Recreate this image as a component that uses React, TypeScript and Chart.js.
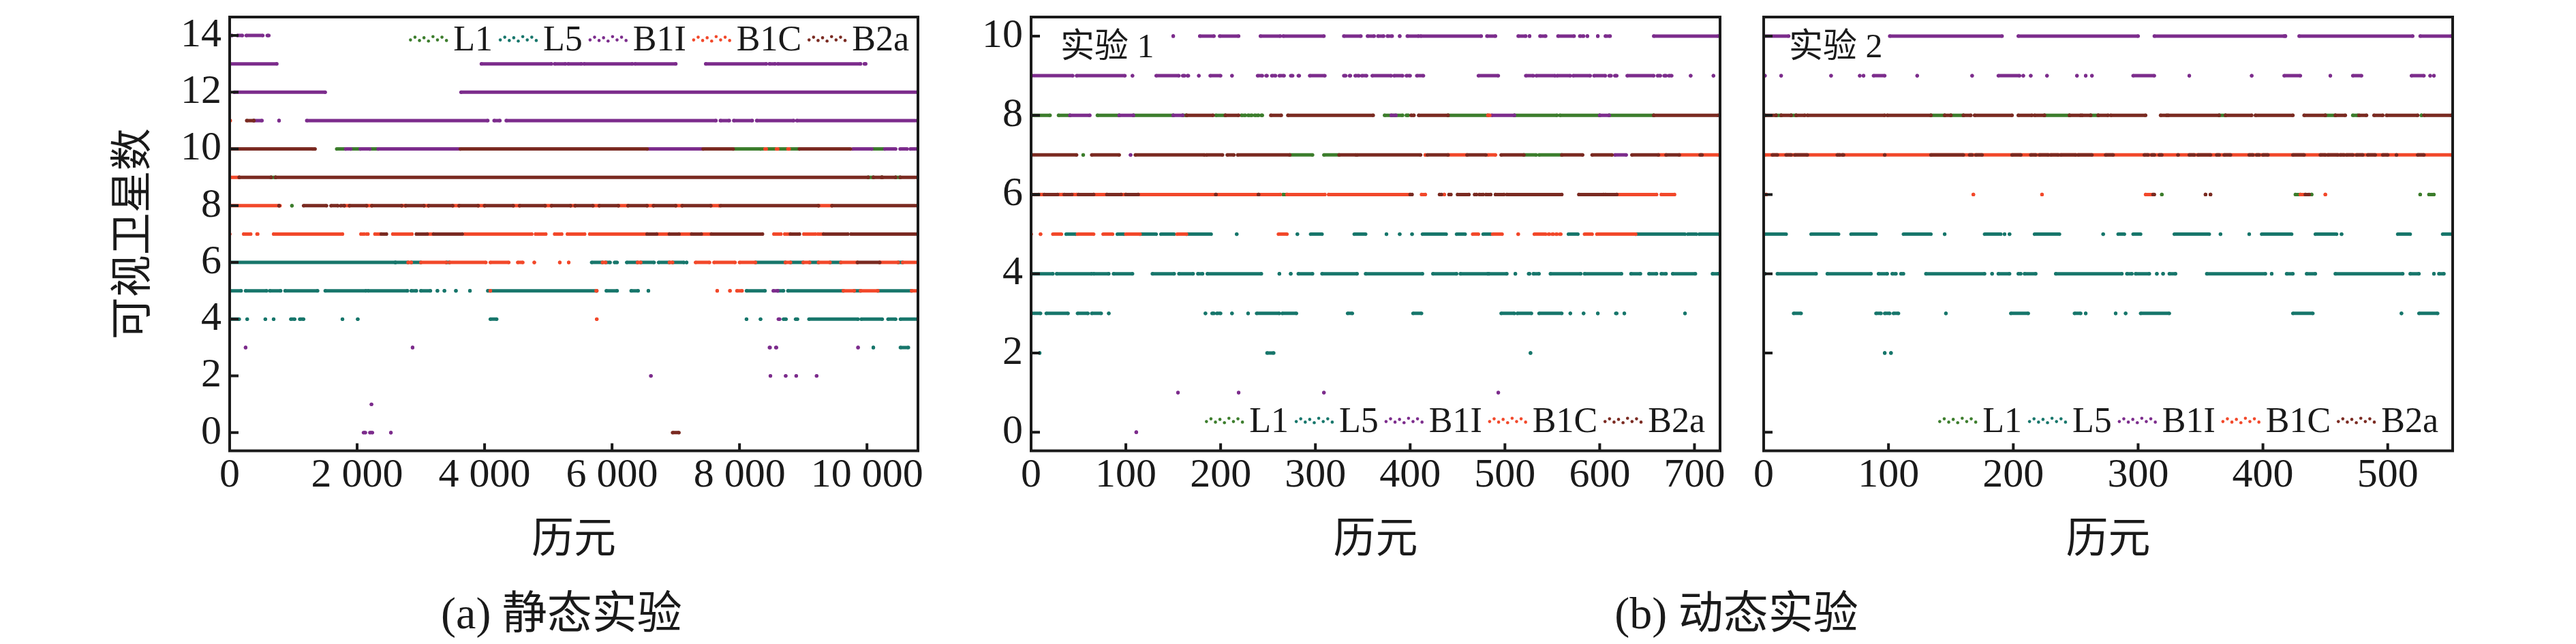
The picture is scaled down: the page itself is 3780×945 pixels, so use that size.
import React, { useEffect, useRef } from 'react';
import { Chart, registerables } from 'chart.js';

Chart.register(...registerables);

type Run = [number, number, number]; // [epoch start, epoch end, visible satellites]

const SERIES = ['L1', 'L5', 'B1I', 'B1C', 'B2a'];
const COLORS = ['#3c7d2c', '#17766b', '#7c2c8c', '#f2482a', '#7a2a21'];
const INK = '#1a1a1a';
const FONT = '"Liberation Serif", "Noto Sans CJK SC", serif';

const Y_TITLE = '可视卫星数';
const X_TITLE = '历元';
const CAPTION_A = '(a) 静态实验';
const CAPTION_B = '(b) 动态实验';
const LABEL_B1 = '实验 1';
const LABEL_B2 = '实验 2';

// tick values
const A_XTICKS = [0, 2000, 4000, 6000, 8000, 10000];
const A_YTICKS = [0, 2, 4, 6, 8, 10, 12, 14];
const B1_XTICKS = [0, 100, 200, 300, 400, 500, 600, 700];
const B2_XTICKS = [0, 100, 200, 300, 400, 500];
const B_YTICKS = [0, 2, 4, 6, 8, 10];

// ---------------- (a) static experiment ----------------
const aL1: Run[] = [
  [1680, 1820, 10], [1900, 2050, 10], [2200, 2330, 10], [7900, 8330, 10], [8330, 8940, 10], [10075, 10280, 10],
  [650, 720, 9], [10020, 10100, 9], [10230, 10240, 9], [10450, 10520, 9],
  [977, 977, 8],
];
const aL5: Run[] = [
  [0, 2600, 6], [2600, 2800, 6], [2850, 3000, 6], [3400, 3450, 6], [5680, 5850, 6], [5900, 5970, 6], [6040, 6080, 6],
  [6230, 6400, 6], [6450, 6660, 6], [6730, 6900, 6], [6950, 7130, 6], [7170, 7170, 6], [8250, 8720, 6], [8800, 9000, 6],
  [9100, 9240, 6], [9420, 9590, 6], [10490, 10560, 6],
  [0, 180, 5], [250, 580, 5], [630, 800, 5], [870, 1380, 5], [1500, 2140, 5], [2170, 2790, 5], [2850, 2930, 5],
  [3000, 3150, 5], [3260, 3260, 5], [3370, 3370, 5], [3550, 3550, 5], [3770, 3770, 5], [4050, 5760, 5], [5910, 6080, 5],
  [6300, 6410, 5], [6570, 6570, 5], [8110, 8400, 5], [8600, 8690, 5], [8760, 9630, 5], [9800, 9900, 5], [10170, 10700, 5],
  [0, 150, 4], [275, 275, 4], [560, 560, 4], [690, 690, 4], [960, 1020, 4], [1100, 1160, 4], [1770, 1770, 4],
  [2010, 2010, 4], [4090, 4190, 4], [8110, 8110, 4], [8330, 8330, 4], [8690, 8730, 4], [8880, 8910, 4], [9090, 9860, 4],
  [9910, 10240, 4], [10330, 10450, 4], [10525, 10810, 4],
  [10100, 10100, 3], [10525, 10650, 3],
];
const aB1I: Run[] = [
  [0, 40, 14], [120, 200, 14], [260, 520, 14], [590, 615, 14],
  [0, 740, 13], [3950, 5050, 13], [5100, 5270, 13], [5310, 5520, 13], [5560, 6320, 13], [6360, 7000, 13], [7470, 8420, 13],
  [8470, 8560, 13], [8600, 9900, 13], [9960, 9980, 13],
  [70, 1500, 12], [3630, 10810, 12],
  [380, 507, 11], [775, 775, 11], [1210, 4050, 11], [4150, 4240, 11], [4340, 7630, 11], [7700, 7840, 11], [7910, 8200, 11],
  [8270, 8850, 11], [8900, 10810, 11],
  [1820, 1900, 10], [2050, 2200, 10], [2330, 3620, 10], [6550, 7430, 10], [9775, 10075, 10], [10280, 10450, 10],
  [10520, 10630, 10], [10680, 10810, 10],
  [8530, 8600, 5], [8610, 8630, 4],
  [250, 250, 3], [2870, 2870, 3], [8470, 8480, 3], [8570, 8580, 3], [9860, 9860, 3],
  [6610, 6610, 2], [8485, 8485, 2], [8725, 8725, 2], [8890, 8890, 2], [9210, 9210, 2],
  [2225, 2225, 1],
  [2100, 2130, 0], [2200, 2240, 0], [2530, 2530, 0],
];
const aB1C: Run[] = [
  [0, 10, 11],
  [8400, 8420, 10], [8580, 8600, 10], [8760, 8780, 10],
  [0, 150, 9],
  [0, 790, 8], [1800, 1880, 8], [2150, 2230, 8], [2700, 2760, 8], [3050, 3120, 8], [3500, 3600, 8], [3900, 4000, 8],
  [4450, 4550, 8], [4950, 5050, 8], [5350, 5420, 8], [5700, 5800, 8], [6100, 6250, 8], [6550, 6650, 8], [7000, 7100, 8],
  [7550, 7680, 8], [9240, 9450, 8],
  [0, 0, 7], [220, 330, 7], [430, 440, 7], [690, 1770, 7], [2060, 2110, 7], [2150, 2170, 7], [2280, 2360, 7], [2560, 2860, 7],
  [3100, 3200, 7], [3690, 4740, 7], [4800, 4960, 7], [5100, 5210, 7], [5300, 5570, 7], [5650, 6550, 7], [6700, 6900, 7],
  [7050, 7250, 7], [7400, 7560, 7], [8540, 8650, 7], [8710, 8800, 7], [9010, 9190, 7], [9230, 9320, 7],
  [2800, 2850, 6], [3000, 3400, 6], [3450, 4020, 6], [4090, 4380, 6], [4520, 4600, 6], [4780, 4780, 6], [5180, 5180, 6],
  [5320, 5320, 6], [5850, 5900, 6], [6400, 6450, 6], [6900, 6950, 6], [7310, 7530, 6], [7600, 7930, 6], [8000, 8250, 6],
  [8720, 8800, 6], [9000, 9100, 6], [9240, 9420, 6], [9590, 9850, 6], [10200, 10490, 6], [10560, 10810, 6],
  [4090, 4090, 5], [5750, 5760, 5], [7650, 7650, 5], [7850, 7850, 5], [7960, 8040, 5], [9630, 9800, 5], [9900, 10170, 5],
  [10700, 10810, 5],
  [5760, 5760, 4],
];
const aB2a: Run[] = [
  [268, 380, 11],
  [0, 1300, 10], [1320, 1340, 10], [3620, 6550, 10], [7430, 7900, 10], [8940, 9740, 10],
  [150, 650, 9], [720, 10020, 9], [10100, 10230, 9], [10240, 10450, 9], [10520, 10810, 9],
  [775, 775, 8], [1160, 1520, 8], [1590, 1700, 8], [1740, 1800, 8], [1880, 2150, 8], [2230, 2700, 8], [2760, 3050, 8],
  [3120, 3500, 8], [3600, 3900, 8], [4000, 4450, 8], [4550, 4950, 8], [5050, 5350, 8], [5420, 5700, 8], [5800, 6100, 8],
  [6250, 6550, 8], [6650, 7000, 8], [7100, 7550, 8], [7700, 9240, 8], [9450, 10810, 8],
  [2380, 2460, 7], [2930, 3100, 7], [3200, 3650, 7], [6550, 6700, 7], [6900, 7050, 7], [7250, 7400, 7], [7560, 8360, 7],
  [8800, 8940, 7], [9320, 9700, 7], [9750, 10810, 7],
  [9850, 10200, 6],
  [6950, 7050, 0],
];

// ---------------- (b) dynamic experiment 1 ----------------
const b1L1: Run[] = [
  [0, 20, 8], [29, 41, 8], [70, 93, 8], [108, 150, 8], [160, 164, 8], [195, 205, 8], [222, 226, 8], [229, 233, 8],
  [236, 240, 8], [243, 244, 8], [373, 392, 8], [396, 398, 8], [440, 482, 8], [510, 555, 8], [558, 600, 8], [610, 657, 8],
  [55, 55, 7], [273, 297, 7], [309, 325, 7], [520, 533, 7], [536, 560, 7],
  [266, 270, 6],
];
const b1L5: Run[] = [
  [37, 47, 5], [91, 98, 5], [115, 132, 5], [137, 151, 5], [164, 190, 5], [217, 217, 5], [281, 281, 5], [295, 307, 5],
  [341, 353, 5], [375, 375, 5], [389, 389, 5], [402, 402, 5], [413, 438, 5], [449, 458, 5], [477, 485, 5], [567, 577, 5],
  [638, 690, 5], [693, 702, 5], [705, 725, 5],
  [0, 23, 4], [27, 64, 4], [66, 82, 4], [87, 107, 4], [128, 151, 4], [156, 171, 4], [176, 181, 4], [186, 243, 4],
  [262, 262, 4], [274, 274, 4], [282, 297, 4], [307, 344, 4], [353, 413, 4], [424, 449, 4], [453, 482, 4], [483, 502, 4],
  [511, 511, 4], [525, 526, 4], [530, 536, 4], [548, 580, 4], [584, 623, 4], [633, 643, 4], [652, 660, 4], [665, 670, 4],
  [677, 701, 4], [719, 725, 4],
  [0, 10, 3], [16, 39, 3], [49, 60, 3], [64, 74, 3], [82, 82, 3], [184, 184, 3], [191, 193, 3], [196, 200, 3], [212, 212, 3],
  [229, 229, 3], [238, 262, 3], [265, 280, 3], [334, 339, 3], [403, 412, 3], [496, 510, 3], [513, 528, 3], [536, 560, 3],
  [569, 569, 3], [583, 583, 3], [598, 598, 3], [617, 618, 3], [626, 626, 3], [690, 690, 3],
  [9, 9, 2], [249, 256, 2], [527, 527, 2],
];
const b1B1I: Run[] = [
  [150, 150, 10], [178, 193, 10], [199, 219, 10], [242, 263, 10], [266, 309, 10], [330, 348, 10], [355, 362, 10],
  [366, 372, 10], [376, 381, 10], [389, 389, 10], [397, 409, 10], [411, 475, 10], [481, 490, 10], [514, 522, 10],
  [526, 526, 10], [537, 543, 10], [556, 573, 10], [579, 583, 10], [587, 587, 10], [598, 598, 10], [606, 611, 10],
  [657, 725, 10],
  [0, 44, 9], [48, 99, 9], [107, 107, 9], [132, 156, 9], [160, 162, 9], [165, 166, 9], [177, 177, 9], [189, 200, 9],
  [212, 212, 9], [239, 244, 9], [248, 249, 9], [254, 258, 9], [262, 267, 9], [274, 276, 9], [282, 283, 9], [294, 310, 9],
  [330, 332, 9], [336, 337, 9], [342, 346, 9], [349, 354, 9], [360, 380, 9], [383, 392, 9], [396, 400, 9], [407, 414, 9],
  [472, 493, 9], [522, 530, 9], [533, 553, 9], [555, 569, 9], [572, 590, 9], [594, 606, 9], [610, 612, 9], [616, 618, 9],
  [629, 657, 9], [661, 664, 9], [668, 670, 9], [673, 676, 9], [696, 696, 9], [720, 720, 9],
  [41, 62, 8], [93, 108, 8], [150, 160, 8], [380, 385, 8], [486, 510, 8], [600, 610, 8],
  [105, 105, 7], [616, 628, 7],
  [155, 155, 1], [219, 219, 1], [309, 309, 1], [493, 493, 1],
  [111, 111, 0],
];
const b1B1C: Run[] = [
  [482, 484, 8],
  [416, 416, 7], [440, 460, 7], [482, 490, 7], [662, 670, 7], [684, 725, 7],
  [10, 12, 6], [30, 33, 6], [45, 48, 6], [66, 80, 6], [95, 100, 6], [113, 263, 6], [270, 310, 6], [314, 400, 6],
  [412, 416, 6], [436, 436, 6], [618, 660, 6], [665, 679, 6],
  [0, 0, 5], [10, 10, 5], [23, 32, 5], [49, 66, 5], [76, 86, 5], [100, 115, 5], [154, 164, 5], [261, 270, 5], [466, 472, 5],
  [487, 497, 5], [514, 514, 5], [531, 543, 5], [546, 547, 5], [550, 551, 5], [554, 555, 5], [558, 559, 5], [584, 592, 5],
  [597, 638, 5],
];
const b1B2a: Run[] = [
  [164, 192, 8], [205, 219, 8], [253, 264, 8], [271, 361, 8], [401, 404, 8], [409, 440, 8], [657, 725, 8],
  [0, 48, 7], [64, 93, 7], [110, 183, 7], [185, 202, 7], [207, 214, 7], [218, 273, 7], [325, 343, 7], [344, 411, 7],
  [418, 440, 7], [460, 480, 7], [496, 520, 7], [560, 582, 7], [592, 613, 7], [634, 662, 7], [670, 684, 7], [706, 708, 7],
  [0, 8, 6], [14, 28, 6], [35, 43, 6], [50, 66, 6], [80, 95, 6], [100, 113, 6], [195, 195, 6], [240, 240, 6], [400, 402, 6],
  [431, 433, 6], [441, 443, 6], [450, 462, 6], [468, 470, 6], [473, 477, 6], [480, 485, 6], [490, 499, 6], [502, 560, 6],
  [578, 604, 6], [606, 618, 6],
];

// ---------------- (b) dynamic experiment 2 ----------------
const b2L1: Run[] = [
  [10, 14, 8], [22, 26, 8], [134, 145, 8], [150, 160, 8], [225, 245, 8], [262, 268, 8], [365, 370, 8], [450, 458, 8],
  [472, 476, 8], [527, 527, 8],
  [319, 319, 6], [426, 430, 6], [439, 439, 6], [526, 526, 6], [533, 537, 6],
];
const b2L5: Run[] = [
  [1, 18, 5], [38, 60, 5], [70, 90, 5], [112, 134, 5], [145, 145, 5], [177, 190, 5], [193, 193, 5], [197, 197, 5],
  [217, 237, 5], [272, 272, 5], [284, 289, 5], [296, 302, 5], [329, 357, 5], [366, 366, 5], [389, 389, 5], [399, 423, 5],
  [442, 459, 5], [463, 463, 5], [508, 518, 5], [544, 551, 5],
  [1, 1, 4], [11, 42, 4], [51, 86, 4], [92, 99, 4], [103, 106, 4], [110, 112, 4], [130, 177, 4], [183, 183, 4],
  [188, 197, 4], [204, 206, 4], [209, 218, 4], [234, 287, 4], [291, 295, 4], [298, 309, 4], [315, 315, 4], [320, 320, 4],
  [325, 330, 4], [355, 402, 4], [407, 407, 4], [419, 424, 4], [435, 442, 4], [458, 512, 4], [518, 525, 4], [537, 537, 4],
  [541, 545, 4],
  [24, 30, 3], [90, 94, 3], [97, 101, 3], [104, 108, 3], [146, 146, 3], [198, 212, 3], [249, 254, 3], [258, 258, 3],
  [282, 282, 3], [290, 290, 3], [302, 325, 3], [424, 440, 3], [511, 511, 3], [525, 540, 3],
  [97, 97, 2], [102, 102, 2],
];
const b2B1I: Run[] = [
  [0, 20, 10], [101, 191, 10], [204, 300, 10], [313, 417, 10], [418, 418, 10], [429, 520, 10], [526, 551, 10],
  [1, 1, 9], [14, 14, 9], [54, 54, 9], [77, 77, 9], [80, 80, 9], [88, 97, 9], [123, 123, 9], [167, 167, 9], [188, 205, 9],
  [208, 208, 9], [214, 214, 9], [227, 227, 9], [251, 251, 9], [258, 258, 9], [263, 263, 9], [296, 313, 9], [341, 341, 9],
  [391, 391, 9], [417, 430, 9], [454, 454, 9], [472, 479, 9], [519, 529, 9], [534, 534, 9], [537, 537, 9],
];
const b2B1C: Run[] = [
  [1, 551, 7],
  [2, 2, 6], [168, 168, 6], [223, 223, 6], [306, 312, 6], [430, 434, 6], [450, 450, 6],
];
const b2B2a: Run[] = [
  [1, 10, 8], [14, 22, 8], [26, 33, 8], [35, 97, 8], [99, 134, 8], [145, 150, 8], [160, 166, 8], [169, 199, 8],
  [204, 215, 8], [217, 225, 8], [245, 254, 8], [255, 262, 8], [268, 276, 8], [278, 306, 8], [318, 323, 8], [324, 365, 8],
  [370, 391, 8], [394, 424, 8], [433, 450, 8], [458, 466, 8], [477, 483, 8], [489, 496, 8], [499, 524, 8], [529, 551, 8],
  [7, 11, 7], [18, 22, 7], [25, 35, 7], [59, 61, 7], [63, 64, 7], [97, 97, 7], [134, 160, 7], [165, 167, 7], [170, 175, 7],
  [199, 206, 7], [214, 218, 7], [221, 228, 7], [230, 236, 7], [238, 250, 7], [252, 263, 7], [274, 280, 7], [305, 308, 7],
  [311, 313, 7], [317, 319, 7], [332, 332, 7], [341, 345, 7], [348, 358, 7], [363, 365, 7], [369, 374, 7], [389, 392, 7],
  [395, 397, 7], [400, 404, 7], [424, 433, 7], [446, 450, 7], [452, 460, 7], [462, 465, 7], [467, 472, 7], [475, 480, 7],
  [484, 490, 7], [496, 500, 7], [507, 507, 7], [524, 529, 7],
  [312, 313, 6], [354, 354, 6], [358, 358, 6], [434, 437, 6],
];

// axis ranges
const A_X = { min: 0, max: 10800, ticks: A_XTICKS };
const A_Y = { min: -0.64, max: 14.65, ticks: A_YTICKS };
const B1_X = { min: 0, max: 727, ticks: B1_XTICKS };
const B2_X = { min: 0, max: 552, ticks: B2_XTICKS };
const B_Y = { min: -0.47, max: 10.48, ticks: B_YTICKS };

function toPoints(runs: Run[]) {
  const pts: { x: number; y: number | null }[] = [];
  for (const [x0, x1, y] of runs) {
    pts.push({ x: x0, y }, { x: x1, y }, { x: x1, y: null });
  }
  return pts;
}

function fmtThousands(v: number) {
  const s = String(Math.round(v));
  if (s.length <= 3) return s;
  return s.slice(0, s.length - 3) + ' ' + s.slice(s.length - 3);
}

function drawMarker(ctx: CanvasRenderingContext2D, x: number, cy: number, color: string) {
  ctx.fillStyle = color;
  const offs = [1, -1.5, 1.5, -1, 2, -2, 1, -1.5, 1.5];
  for (let i = 0; i < offs.length; i++) {
    ctx.beginPath();
    ctx.arc(x + 4 + i * 6.6, cy + offs[i] * 1.6, 2.3, 0, Math.PI * 2);
    ctx.fill();
  }
}

const decoPlugin = {
  id: 'panelDeco',
  afterDraw(chart: any, _args: any, opts: any) {
    const ctx: CanvasRenderingContext2D = chart.ctx;
    const { left, right, top, bottom } = chart.chartArea;
    const xs = chart.scales.x;
    const ys = chart.scales.y;
    ctx.save();
    ctx.strokeStyle = INK;
    ctx.lineWidth = 4;
    ctx.beginPath();
    for (const t of ys.ticks) {
      const p = ys.getPixelForValue(t.value);
      ctx.moveTo(left, p);
      ctx.lineTo(left + 13, p);
    }
    for (const t of xs.ticks) {
      const p = xs.getPixelForValue(t.value);
      ctx.moveTo(p, bottom);
      ctx.lineTo(p, bottom - 11);
    }
    ctx.stroke();
    ctx.lineWidth = 4;
    ctx.strokeRect(left, top, right - left, bottom - top);
    const lg = opts.legend;
    ctx.font = `52px ${FONT}`;
    ctx.textBaseline = 'alphabetic';
    ctx.textAlign = 'left';
    const mw = 62, g1 = 5, g2 = 7;
    let total = 0;
    const widths = SERIES.map((s) => ctx.measureText(s).width);
    widths.forEach((w, i) => { total += mw + g1 + w + (i < widths.length - 1 ? g2 : 0); });
    let x = lg.right - total;
    SERIES.forEach((s, i) => {
      drawMarker(ctx, x, lg.cy, COLORS[i]);
      x += mw + g1;
      ctx.fillStyle = INK;
      ctx.fillText(s, x, lg.baseline);
      x += widths[i] + g2;
    });
    if (opts.label) {
      ctx.font = `50px ${FONT}`;
      ctx.fillStyle = INK;
      ctx.fillText(opts.label.text, opts.label.x, opts.label.y);
    }
    ctx.restore();
  },
};

type Range = { min: number; max: number; ticks: number[] };

type PanelSpec = {
  left: number;
  width: number;
  height: number;
  padRight: number;
  yWidth: number;
  xRange: Range;
  yRange: Range;
  series: Run[][];
  showYLabels: boolean;
  yTitle: boolean;
  legend: { right: number; cy: number; baseline: number };
  label?: { text: string; x: number; y: number };
};

const PANEL_A: PanelSpec = {
  left: 0, width: 1400, height: 860, padRight: 53, yWidth: 337,
  xRange: A_X, yRange: A_Y, series: [aL1, aL5, aB1I, aB1C, aB2a],
  showYLabels: true, yTitle: true,
  legend: { right: 1334, cy: 57, baseline: 74 },
};
const PANEL_B1: PanelSpec = {
  left: 1400, width: 1150, height: 860, padRight: 26, yWidth: 113,
  xRange: B1_X, yRange: B_Y, series: [b1L1, b1L5, b1B1I, b1B1C, b1B2a],
  showYLabels: true, yTitle: false,
  legend: { right: 2502 - 1400, cy: 617, baseline: 634 },
  label: { text: LABEL_B1, x: 1556 - 1400, y: 84 },
};
const PANEL_B2: PanelSpec = {
  left: 2550, width: 1230, height: 860, padRight: 181, yWidth: 38,
  xRange: B2_X, yRange: B_Y, series: [b2L1, b2L5, b2B1I, b2B1C, b2B2a],
  showYLabels: false, yTitle: false,
  legend: { right: 3578 - 2550, cy: 617, baseline: 634 },
  label: { text: LABEL_B2, x: 2625 - 2550, y: 84 },
};

const AREA_TOP = 25;
const AREA_BOTTOM = 661.5;

function Panel({ spec }: { spec: PanelSpec }) {
  const ref = useRef<HTMLCanvasElement>(null);
  useEffect(() => {
    if (!ref.current) return;
    const tickFont = { family: FONT, size: 60 };
    const chart = new Chart(ref.current, {
      type: 'scatter',
      data: {
        datasets: spec.series.map((runs, i) => ({
          label: SERIES[i],
          data: toPoints(runs),
          showLine: true,
          spanGaps: false,
          borderColor: COLORS[i],
          backgroundColor: COLORS[i],
          borderWidth: 5,
          borderCapStyle: 'butt',
          pointRadius: 2.6,
          pointBorderWidth: 0,
          pointHoverRadius: 0,
          order: SERIES.length - 1 - i,
        })),
      } as any,
      options: {
        animation: false,
        responsive: false,
        events: [],
        layout: { padding: { left: 0, top: AREA_TOP, right: spec.padRight, bottom: 0 } },
        plugins: {
          legend: { display: false },
          tooltip: { enabled: false },
          panelDeco: { legend: spec.legend, label: spec.label },
        } as any,
        scales: {
          x: {
            type: 'linear',
            min: spec.xRange.min,
            max: spec.xRange.max,
            afterBuildTicks: (s: any) => {
              s.ticks = spec.xRange.ticks.map((v) => ({ value: v }));
            },
            afterFit: (s: any) => {
              s.height = spec.height - AREA_BOTTOM;
              s.paddingLeft = 0;
              s.paddingRight = 0;
            },
            grid: { display: false, drawTicks: false },
            border: { display: false },
            ticks: {
              autoSkip: false,
              maxRotation: 0,
              padding: 1,
              color: INK,
              font: tickFont,
              callback: (v: any) => fmtThousands(Number(v)),
            },
            title: {
              display: true,
              text: X_TITLE,
              color: INK,
              font: { family: FONT, size: 62 },
              padding: { top: 0, bottom: 28 },
            },
          },
          y: {
            type: 'linear',
            min: spec.yRange.min,
            max: spec.yRange.max,
            afterBuildTicks: (s: any) => {
              s.ticks = spec.yRange.ticks.map((v) => ({ value: v }));
            },
            afterFit: (s: any) => {
              s.width = spec.yWidth;
              s.paddingTop = 0;
              s.paddingBottom = 0;
            },
            grid: { display: false, drawTicks: false },
            border: { display: false },
            ticks: {
              display: spec.showYLabels,
              autoSkip: false,
              padding: 12,
              color: INK,
              font: tickFont,
              callback: (v: any) => String(Math.round(Number(v))),
            },
            title: {
              display: spec.yTitle,
              text: Y_TITLE,
              color: INK,
              font: { family: FONT, size: 62 },
              padding: { top: 162, bottom: 0 },
            },
          },
        },
      } as any,
      plugins: [decoPlugin],
    });
    return () => chart.destroy();
  }, [spec]);
  return (
    <canvas
      ref={ref}
      width={spec.width}
      height={spec.height}
      style={{ position: 'absolute', left: spec.left, top: 0, width: spec.width, height: spec.height }}
    />
  );
}

function Caption({ text, cx }: { text: string; cx: number }) {
  return (
    <div
      style={{
        position: 'absolute',
        left: cx - 400,
        width: 800,
        top: 867,
        textAlign: 'center',
        fontFamily: FONT,
        fontSize: 66,
        lineHeight: '66px',
        color: INK,
        whiteSpace: 'nowrap',
      }}
    >
      {text}
    </div>
  );
}

export default function App() {
  return (
    <div
      style={{
        position: 'absolute',
        left: 0,
        top: 0,
        width: 3780,
        height: 945,
        background: '#ffffff',
        overflow: 'hidden',
      }}
    >
      <Panel spec={PANEL_A} />
      <Panel spec={PANEL_B1} />
      <Panel spec={PANEL_B2} />
      <Caption text={CAPTION_A} cx={824} />
      <Caption text={CAPTION_B} cx={2548} />
    </div>
  );
}
